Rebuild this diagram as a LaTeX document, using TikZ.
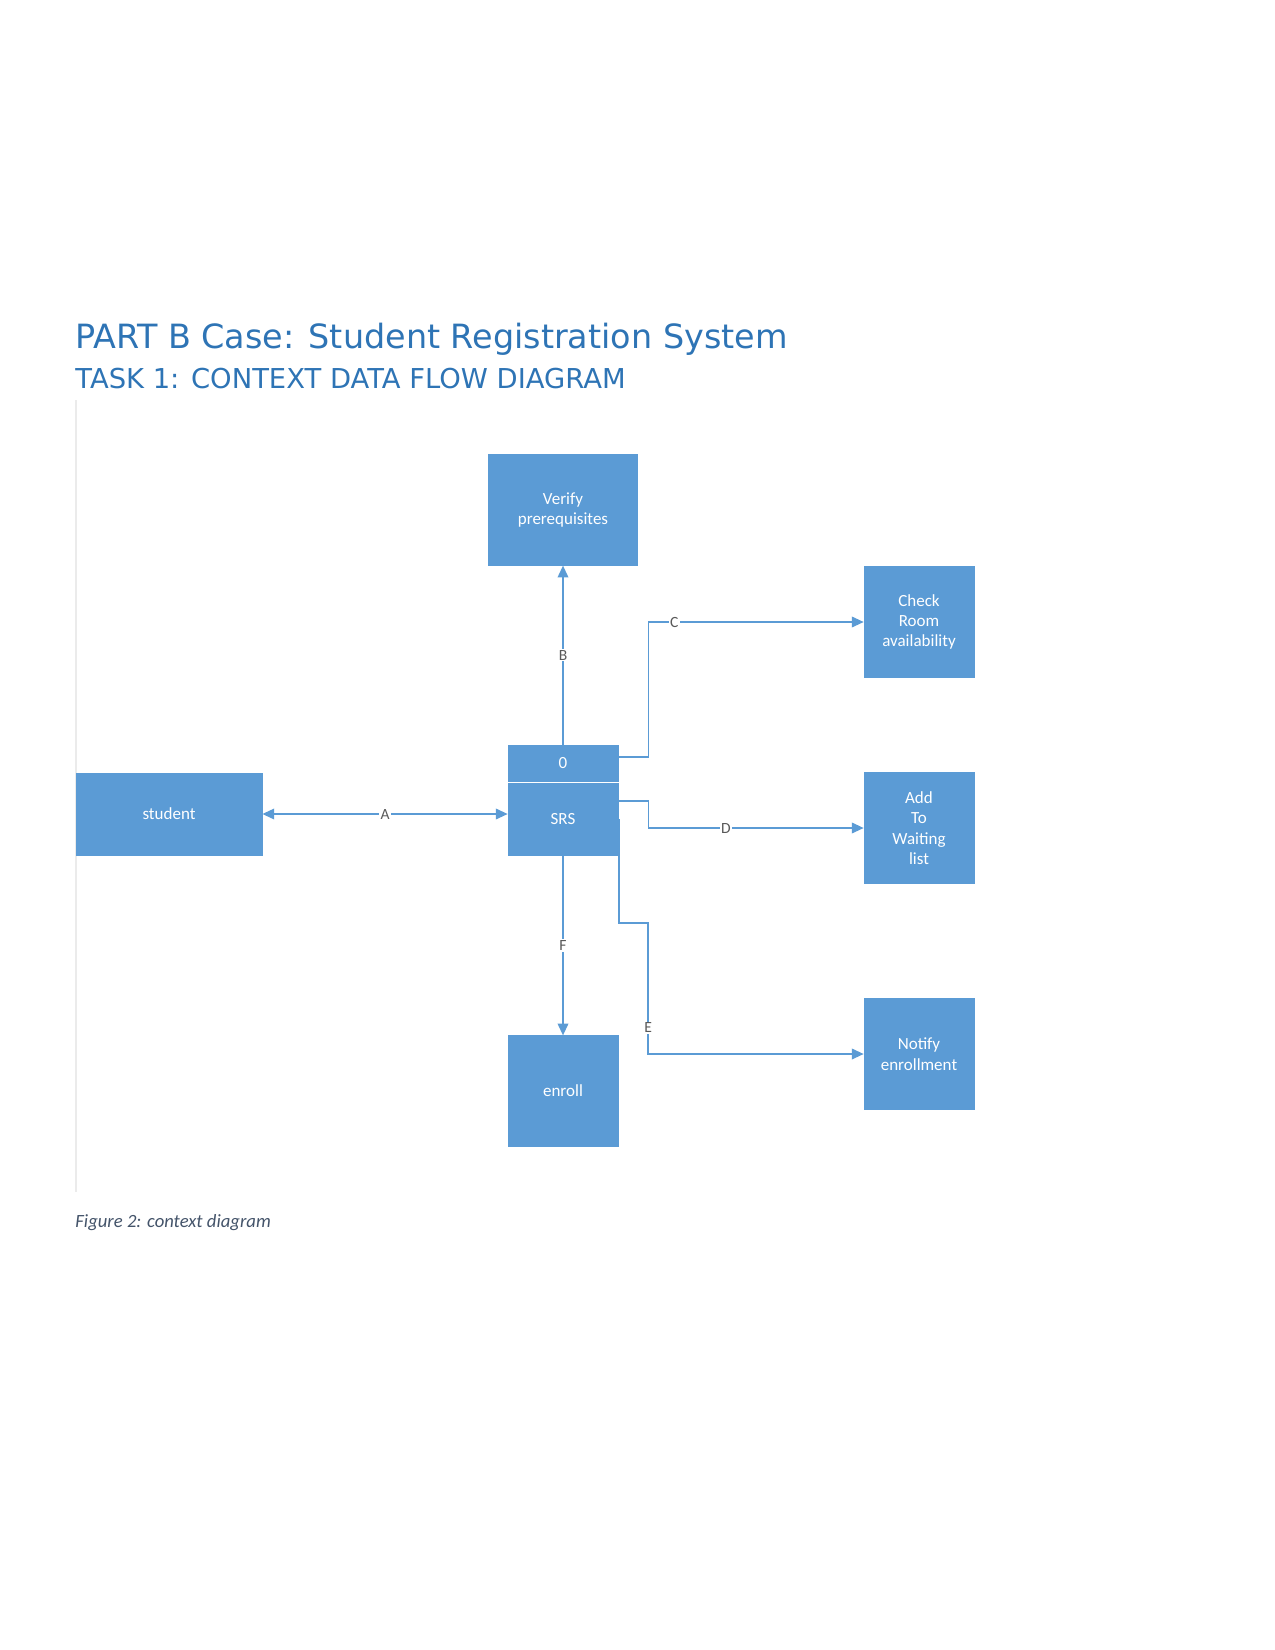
\documentclass[tikz,border=0pt]{standalone}
\usepackage{fontspec}
\usepackage{tikz}
\usetikzlibrary{arrows.meta, positioning}
\newfontfamily\headfont{DejaVu Sans}
\newfontfamily\boxfont{Carlito}
\definecolor{boxblue}{HTML}{5B9BD5}
\definecolor{headblue}{HTML}{2E74B5}
\definecolor{capgray}{HTML}{44546A}
\definecolor{lblgray}{HTML}{595959}

\begin{document}
\begin{tikzpicture}[
    x=0.016933cm, y=-0.016933cm,
    proc/.style={rectangle, draw=boxblue, fill=boxblue, text=white,
                 minimum width=1.86cm, minimum height=1.87cm, align=center,
                 inner sep=1pt, font=\boxfont\fontsize{8.2}{9.8}\selectfont},
    flow/.style={-{Triangle[length=2mm, width=1.8mm]}, draw=boxblue,
                 line width=0.75pt},
    twoway/.style={{Triangle[length=2mm, width=1.8mm]}-{Triangle[length=2mm, width=1.8mm]}},
    lbl/.style={fill=white, text=lblgray, inner sep=0.6pt,
                font=\boxfont\fontsize{7.5}{8}\selectfont},
  ]
  \useasboundingbox (0,0) rectangle (1275,1650);

  % Headings
  \node[anchor=base west, inner sep=0, text=headblue,
        font=\headfont\fontsize{16.1}{19}\selectfont] (title) at (75,348)
        {PART B Case: Student Registration System};
  \node[anchor=base west, inner sep=0, text=headblue,
        font=\headfont\fontsize{13.2}{16}\selectfont] (task) at (75,388)
        {TASK 1: CONTEXT DATA FLOW DIAGRAM};

  % Frame edge
  \draw[black!8, line width=0.6pt] (76,400) -- (76,1192);

  % Central process
  \node[proc, minimum height=0.61cm] (zero) at (563,763) {0};
  \node[proc, minimum height=1.22cm] (srs) at (563,819) {SRS};

  % External entity
  \node[proc, minimum width=3.15cm, minimum height=1.39cm] (student) at (169,814) {student};

  % Sub processes
  \node[proc, minimum width=2.51cm] (verify) at (563,510) {Verify\\prerequisites};
  \node[proc] (check) at (919,622) {Check\\Room\\availability};
  \node[proc] (add) at (919,828) {Add\\To\\Waiting\\list};
  \node[proc] (notify) at (919,1054) {Notify\\enrollment};
  \node[proc] (enroll) at (563,1091) {enroll};

  % Flows
  \draw[flow, twoway] (student) -- node[lbl, pos=0.5] {A} (student -| srs.west);
  \draw[flow] (zero) -- node[lbl] {B} (verify);
  \draw[flow] ([yshift=2.8pt]zero.east) -- ++(30,0) |- node[lbl, pos=0.56] {C} (check);
  \draw[flow] ([yshift=8.6pt]srs.east) -- ++(30,0) |- node[lbl, pos=0.68] {D} (add);
  \draw[flow] ([xshift=0.4pt]srs.east) -- ++(0,104) -- ++(29,0) |- node[lbl, pos=0.4] {E} (notify);
  \draw[flow] (srs) -- node[lbl] {F} (enroll);

  % Caption
  \node[anchor=base west, inner sep=0, text=capgray,
        font=\boxfont\itshape\fontsize{9}{11}\selectfont] (caption) at (75,1227)
        {Figure 2: context diagram};
\end{tikzpicture}
\end{document}
